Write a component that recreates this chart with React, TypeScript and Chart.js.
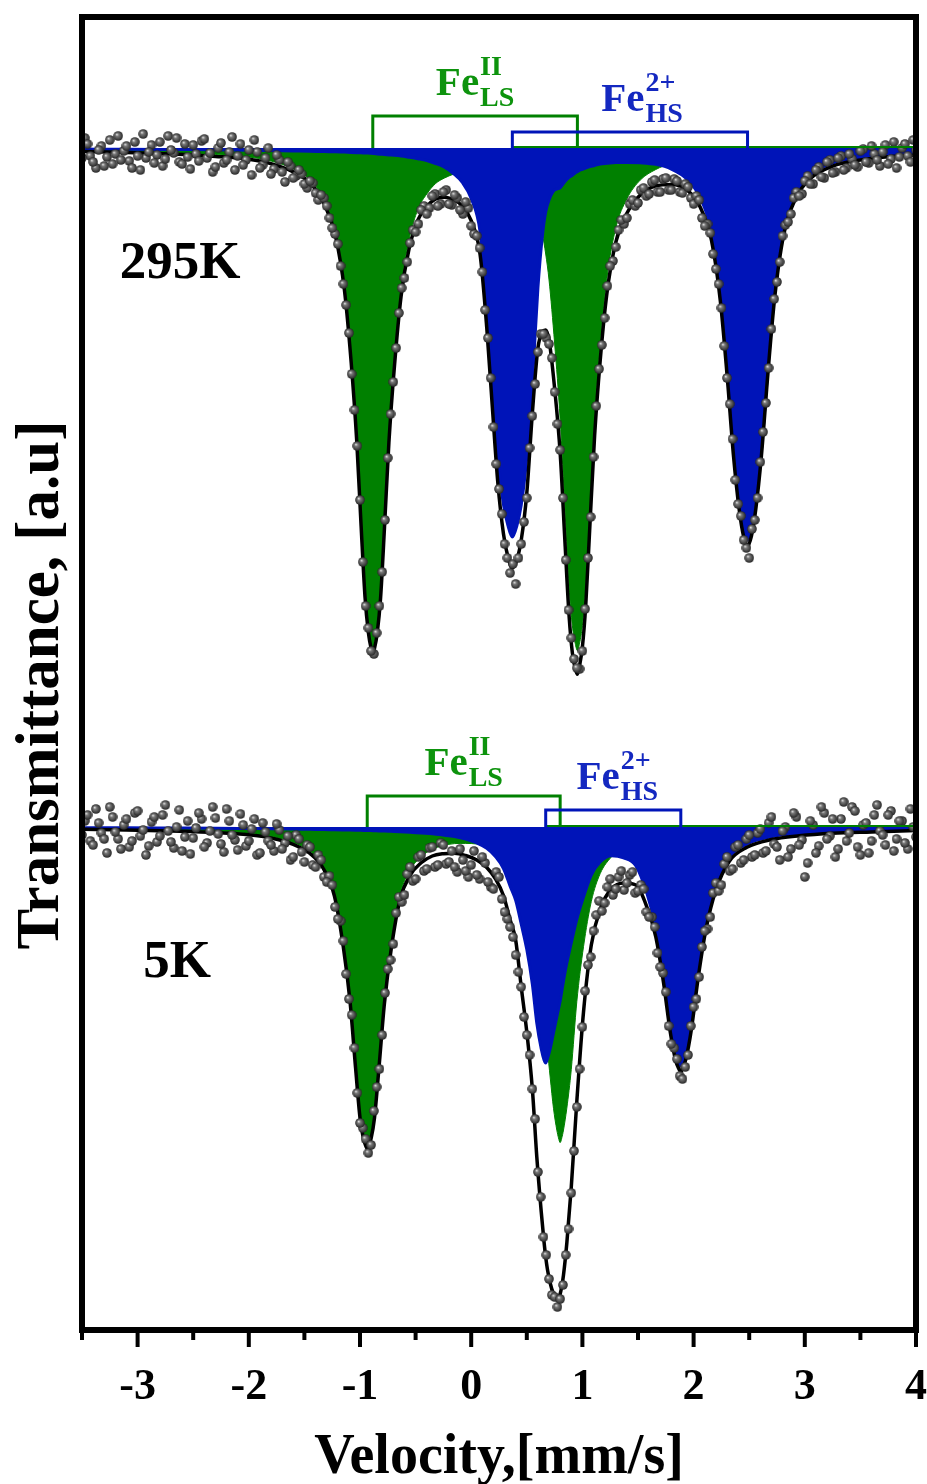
import React, { useEffect, useRef } from "react";
import { Chart, registerables } from "chart.js";

Chart.register(...registerables);

const FONT = '"Liberation Serif", "Times New Roman", serif';

// ---------- Fitted curves (absorption, a.u.) ----------
// 295 K
const X_FIT_TOP = [-3.5, -3.1, -2.7, -2.3, -2.0, -1.8, -1.6, -1.45, -1.32, -1.22, -1.14, -1.08, -1.03, -0.99, -0.955, -0.925, -0.9, -0.885, -0.87, -0.845, -0.815, -0.78, -0.74, -0.69, -0.63, -0.56, -0.48, -0.4, -0.32, -0.24, -0.16, -0.08, 0.0, 0.08, 0.14, 0.19, 0.24, 0.29, 0.33, 0.37, 0.41, 0.45, 0.5, 0.55, 0.6, 0.64, 0.67, 0.7, 0.75, 0.8, 0.845, 0.88, 0.91, 0.935, 0.955, 0.975, 1.0, 1.03, 1.065, 1.11, 1.16, 1.22, 1.3, 1.4, 1.52, 1.66, 1.8, 1.94, 2.06, 2.16, 2.24, 2.3, 2.36, 2.41, 2.45, 2.485, 2.52, 2.56, 2.61, 2.67, 2.73, 2.81, 2.92, 3.05, 3.25, 3.5, 3.75, 4.0];
const GREEN_TOP = [2.4, 3.4, 4.6, 6.6, 9.0, 13.0, 20.9, 31.6, 52.6, 84.5, 138.0, 209.2, 287.2, 373.3, 443.8, 479.1, 495.0, 500.0, 495.1, 479.2, 443.9, 373.5, 287.5, 210.6, 139.7, 92.2, 61.5, 46.0, 35.5, 30.0, 26.2, 23.4, 22.1, 22.7, 23.2, 24.9, 26.9, 29.2, 31.4, 33.6, 37.9, 42.7, 51.9, 61.7, 70.0, 86.0, 106.0, 132.0, 195.0, 271.2, 364.8, 438.0, 477.9, 495.2, 502.6, 495.1, 477.6, 437.5, 364.1, 270.0, 196.5, 130.5, 79.9, 50.8, 32.1, 21.5, 15.3, 10.7, 9.5, 8.4, 7.5, 7.1, 6.7, 6.3, 6.1, 5.8, 5.6, 5.5, 5.3, 5.0, 4.7, 4.4, 4.0, 3.6, 3.2, 2.5, 2.2, 1.9];
const BLUE_TOP = [1.1, 1.2, 1.5, 1.8, 2.2, 2.6, 3.0, 3.3, 3.6, 3.8, 4.1, 4.5, 4.7, 4.8, 5.0, 5.1, 5.3, 5.4, 5.6, 5.9, 6.2, 6.5, 6.9, 7.3, 8.0, 9.2, 10.7, 12.5, 15.5, 19.2, 25.5, 34.5, 50.5, 83.8, 156.7, 234.1, 308.5, 356.5, 377.4, 389.1, 378.0, 357.1, 309.3, 235.1, 140.0, 88.0, 64.0, 52.0, 42.0, 39.7, 33.2, 29.4, 27.2, 24.9, 23.7, 22.3, 21.3, 20.0, 18.6, 17.5, 16.1, 15.3, 14.4, 14.4, 14.8, 16.4, 21.1, 31.1, 49.8, 83.6, 145.0, 218.6, 302.6, 355.2, 382.5, 392.1, 382.4, 355.0, 302.3, 218.0, 144.1, 82.5, 45.9, 27.0, 15.0, 9.5, 6.5, 5.0];
const TOTAL_TOP = [3.5, 4.6, 6.1, 8.4, 11.2, 15.6, 23.9, 34.9, 56.2, 88.3, 142.1, 213.7, 291.9, 378.1, 448.8, 484.2, 500.3, 505.4, 500.7, 485.1, 450.1, 380.0, 294.4, 217.9, 147.7, 101.4, 72.2, 58.5, 51.0, 49.2, 51.7, 57.9, 72.6, 106.5, 179.9, 259.0, 335.4, 385.7, 408.8, 420.0, 412.0, 392.0, 345.0, 265.0, 200.0, 184.0, 182.0, 192.0, 240.0, 305.0, 398.0, 467.4, 505.1, 520.1, 526.3, 517.4, 498.9, 457.5, 382.7, 287.5, 212.6, 145.8, 94.3, 65.2, 46.9, 37.9, 36.4, 41.8, 59.3, 92.0, 152.5, 225.7, 309.3, 361.5, 388.6, 397.9, 388.0, 360.5, 307.6, 223.0, 148.8, 86.9, 49.9, 30.6, 18.2, 12.0, 8.7, 6.9];

// 5 K
const X_FIT_BOT = [-3.5, -3.1, -2.7, -2.3, -2.0, -1.8, -1.6, -1.45, -1.33, -1.23, -1.15, -1.09, -1.04, -1.0, -0.97, -0.95, -0.935, -0.92, -0.9, -0.87, -0.83, -0.78, -0.72, -0.64, -0.55, -0.45, -0.35, -0.25, -0.15, -0.05, 0.05, 0.14, 0.22, 0.29, 0.35, 0.4, 0.45, 0.5, 0.55, 0.59, 0.63, 0.655, 0.67, 0.685, 0.71, 0.74, 0.77, 0.785, 0.8, 0.815, 0.83, 0.86, 0.9, 0.95, 1.01, 1.08, 1.16, 1.26, 1.37, 1.48, 1.58, 1.66, 1.73, 1.79, 1.84, 1.87, 1.885, 1.9, 1.93, 1.98, 2.04, 2.11, 2.2, 2.32, 2.48, 2.7, 2.95, 3.25, 3.6, 4.0];
const GREEN_BOT = [1.6, 2.2, 3.1, 4.4, 6.3, 9.3, 15.4, 24.2, 39.0, 66.3, 117.0, 171.1, 237.5, 287.4, 307.7, 314.9, 318.1, 315.0, 307.8, 287.5, 237.7, 172.0, 118.1, 67.8, 43.1, 29.7, 22.2, 18.6, 16.6, 16.4, 17.0, 19.2, 22.4, 27.0, 33.6, 39.7, 50.5, 66.0, 90.8, 120.8, 156.4, 181.8, 202.2, 221.9, 250.0, 281.3, 303.1, 310.9, 315.6, 310.8, 303.0, 281.1, 242.4, 174.4, 119.7, 74.5, 46.6, 30.1, 19.8, 14.7, 11.2, 9.5, 8.0, 6.8, 6.4, 6.1, 6.0, 5.9, 5.8, 5.5, 5.0, 4.7, 4.3, 3.9, 3.3, 2.8, 2.3, 1.8, 1.5, 1.2];
const BLUE_BOT = [0.7, 0.8, 1.0, 1.2, 1.5, 1.7, 2.0, 2.3, 2.5, 2.8, 3.0, 3.1, 3.2, 3.3, 3.4, 3.4, 3.5, 3.5, 3.6, 3.7, 3.9, 4.0, 4.3, 4.7, 5.3, 6.1, 6.8, 8.1, 9.6, 12.1, 15.9, 21.3, 29.8, 41.5, 59.2, 73.4, 97.2, 122.6, 157.2, 196.2, 222.0, 233.0, 236.0, 232.0, 222.0, 206.0, 190.0, 182.0, 174.0, 164.0, 154.0, 136.0, 116.0, 92.0, 70.0, 48.0, 35.0, 28.7, 30.9, 38.7, 66.4, 100.7, 148.4, 198.0, 227.1, 236.3, 239.0, 236.1, 226.6, 196.9, 146.7, 98.3, 59.0, 30.5, 17.0, 9.7, 6.4, 4.4, 3.4, 2.4];
const TOTAL_BOT = [2.3, 3.0, 4.1, 5.6, 7.8, 11.0, 17.4, 26.5, 41.5, 69.1, 120.0, 174.2, 240.7, 290.7, 311.1, 318.3, 321.6, 318.5, 311.4, 291.2, 241.6, 176.0, 122.4, 72.5, 48.4, 35.8, 29.0, 26.7, 26.2, 28.5, 32.9, 40.5, 52.2, 68.5, 92.8, 113.1, 160.0, 205.0, 262.0, 330.0, 385.0, 415.0, 430.0, 442.0, 456.0, 467.0, 473.0, 472.0, 467.0, 459.0, 448.0, 416.0, 360.0, 274.0, 185.0, 118.0, 82.0, 62.0, 56.0, 58.0, 80.0, 110.0, 156.0, 205.0, 234.0, 242.4, 245.0, 242.0, 232.4, 202.4, 151.7, 103.0, 63.3, 34.4, 20.3, 12.5, 8.7, 6.2, 4.9, 3.6];

// ---------- Measured points (absorption, a.u.) ----------
const VELOCITY = [
  -3.5, -3.45, -3.4, -3.35, -3.3, -3.25, -3.2, -3.15, -3.1, -3.05,
  -3, -2.95, -2.9, -2.85, -2.8, -2.75, -2.7, -2.65, -2.6, -2.55,
  -2.5, -2.45, -2.4, -2.35, -2.3, -2.25, -2.2, -2.15, -2.1, -2.05,
  -2, -1.95, -1.9, -1.85, -1.8, -1.75, -1.7, -1.65, -1.6, -1.55,
  -1.5, -1.45, -1.4, -1.35, -1.3, -1.25, -1.2, -1.15, -1.1, -1.05,
  -1, -0.95, -0.9, -0.85, -0.8, -0.75, -0.7, -0.65, -0.6, -0.55,
  -0.5, -0.45, -0.4, -0.35, -0.3, -0.25, -0.2, -0.15, -0.1, -0.05,
  0, 0.05, 0.1, 0.15, 0.2, 0.25, 0.3, 0.35, 0.4, 0.45,
  0.5, 0.55, 0.6, 0.65, 0.7, 0.75, 0.8, 0.85, 0.9, 0.95,
  1, 1.05, 1.1, 1.15, 1.2, 1.25, 1.3, 1.35, 1.4, 1.45,
  1.5, 1.55, 1.6, 1.65, 1.7, 1.75, 1.8, 1.85, 1.9, 1.95,
  2, 2.05, 2.1, 2.15, 2.2, 2.25, 2.3, 2.35, 2.4, 2.45,
  2.5, 2.55, 2.6, 2.65, 2.7, 2.75, 2.8, 2.85, 2.9, 2.95,
  3, 3.05, 3.1, 3.15, 3.2, 3.25, 3.3, 3.35, 3.4, 3.45,
  3.5, 3.55, 3.6, 3.65, 3.7, 3.75, 3.8, 3.85, 3.9, 3.95,
  4,
];
const VELOCITY_MID = [
  -3.475, -3.425, -3.375, -3.325, -3.275, -3.225, -3.175, -3.125, -3.075, -3.025,
  -2.975, -2.925, -2.875, -2.825, -2.775, -2.725, -2.675, -2.625, -2.575, -2.525,
  -2.475, -2.425, -2.375, -2.325, -2.275, -2.225, -2.175, -2.125, -2.075, -2.025,
  -1.975, -1.925, -1.875, -1.825, -1.775, -1.725, -1.675, -1.625, -1.575, -1.525,
  -1.475, -1.425, -1.375, -1.325, -1.275, -1.225, -1.175, -1.125, -1.075, -1.025,
  -0.975, -0.925, -0.875, -0.825, -0.775, -0.725, -0.675, -0.625, -0.575, -0.525,
  -0.475, -0.425, -0.375, -0.325, -0.275, -0.225, -0.175, -0.125, -0.075, -0.025,
  0.025, 0.075, 0.125, 0.175, 0.225, 0.275, 0.325, 0.375, 0.425, 0.475,
  0.525, 0.575, 0.625, 0.675, 0.725, 0.775, 0.825, 0.875, 0.925, 0.975,
  1.025, 1.075, 1.125, 1.175, 1.225, 1.275, 1.325, 1.375, 1.425, 1.475,
  1.525, 1.575, 1.625, 1.675, 1.725, 1.775, 1.825, 1.875, 1.925, 1.975,
  2.025, 2.075, 2.125, 2.175, 2.225, 2.275, 2.325, 2.375, 2.425, 2.475,
  2.525, 2.575, 2.625, 2.675, 2.725, 2.775, 2.825, 2.875, 2.925, 2.975,
  3.025, 3.075, 3.125, 3.175, 3.225, 3.275, 3.325, 3.375, 3.425, 3.475,
  3.525, 3.575, 3.625, 3.675, 3.725, 3.775, 3.825, 3.875, 3.925, 3.975,
];
const POINTS_TOP = [
  10, -4, 14, 2, 18, -8, 6, 12, -2, 20,
  8, -14, 4, 15, -6, 11, 2, -10, 16, 9,
  -3, 13, -9, 5, 19, -5, 12, -11, 8, 17,
  2, -8, 20, 10, 26, 7, 24, 14, 30, 22,
  36, 33, 45, 47, 58, 80, 96, 136, 185, 262,
  352, 458, 503, 485, 424, 310, 234, 165, 130, 95,
  84, 62, 66, 48, 58, 44, 56, 47, 62, 54,
  78, 88, 124, 190, 279, 341, 396, 425, 436, 396,
  350, 268, 204, 186, 196, 244, 302, 412, 490, 520,
  503, 410, 309, 221, 170, 118, 99, 72, 70, 52,
  55, 40, 46, 32, 44, 30, 42, 33, 45, 39,
  56, 52, 78, 85, 121, 160, 230, 291, 356, 392,
  410, 372, 314, 255, 181, 134, 88, 74, 50, 48,
  33, 36, 22, 29, 14, 25, 10, 22, 6, 17,
  3, 14, -2, 12, 4, 16, -6, 9, -4, 14,
  2,
];
const POINTS_TOP_MID = [
  -10, 8, 20, -2, 9, 16, -12, 3, 13, -6,
  22, 10, -3, 7, 18, -12, 5, 14, -4, 21,
  6, -7, 10, 24, 0, 15, 4, 22, -4, 12,
  27, 4, 17, 0, 21, 12, 34, 18, 28, 26,
  40, 35, 52, 50, 70, 86, 118, 157, 226, 298,
  414, 480, 506, 458, 372, 266, 200, 140, 114, 82,
  76, 58, 60, 46, 56, 42, 57, 50, 66, 60,
  86, 100, 162, 230, 316, 366, 410, 416, 410, 374,
  300, 236, 186, 190, 210, 276, 350, 462, 511, 521,
  461, 369, 258, 197, 138, 113, 82, 76, 56, 58,
  42, 48, 34, 44, 31, 42, 31, 44, 36, 50,
  48, 70, 76, 106, 136, 198, 256, 332, 368, 400,
  381, 350, 284, 220, 151, 114, 77, 66, 44, 46,
  28, 36, 19, 30, 12, 24, 8, 20, 11, 19,
  1, 15, 6, 18, -3, 11, 20, 0, 8, -8,
];
const POINTS_BOT = [
  8, -12, 18, -4, 12, -20, 5, 22, -8, 14,
  -16, 3, 19, -10, 9, -22, 15, 0, 24, -6,
  11, -14, 20, 4, -9, 17, -18, 8, 23, -2,
  14, -8, 26, 5, 18, -3, 22, 9, 30, 12,
  35, 20, 40, 33, 55, 58, 92, 114, 172, 221,
  296, 312, 318, 260, 208, 142, 117, 70, 68, 40,
  52, 28, 42, 20, 38, 18, 35, 40, 22, 44,
  38, 48, 30, 55, 62, 50, 85, 100, 128, 160,
  208, 262, 345, 410, 452, 470, 472, 428, 366, 280,
  200, 138, 104, 74, 76, 52, 62, 44, 56, 45,
  64, 62, 90, 100, 140, 165, 217, 232, 252, 228,
  180, 150, 104, 90, 56, 58, 30, 42, 18, 33,
  8, 28, 2, 24, -10, 20, 4, 30, -14, 18,
  50, -6, 26, -20, 12, -8, 22, -25, 6, -16,
  28, -4, 14, -22, 8, -12, 24, -6, 16, -18,
  10,
];
const POINTS_BOT_MID = [
  -6, 14, -18, 6, 26, -10, 12, -2, 20, -14,
  9, 28, -5, 15, -12, 4, 21, -17, 10, 27,
  1, -8, 16, -20, 7, 25, -6, 13, -13, 19,
  2, 28, -4, 14, 24, 3, 16, 33, 8, 25,
  18, 38, 28, 50, 49, 80, 94, 147, 188, 266,
  301, 326, 284, 242, 166, 133, 86, 75, 47, 54,
  30, 44, 21, 40, 16, 37, 24, 45, 33, 50,
  24, 52, 36, 60, 45, 72, 92, 110, 145, 190,
  228, 292, 370, 428, 468, 480, 458, 402, 324, 242,
  164, 130, 88, 84, 60, 68, 50, 63, 48, 66,
  58, 85, 90, 126, 146, 199, 221, 249, 240, 199,
  172, 120, 102, 66, 64, 37, 44, 20, 36, 12,
  30, 6, 26, -4, 17, 33, 0, 22, -10, 13,
  36, -2, 19, -14, 9, 30, -8, 14, -20, 20,
  -2, 26, -12, 4, 18, -16, 12, -6, 22, 0,
];

// ---------- Line positions (brackets) ----------
const LS_TOP = [-0.885, 0.955];
const HS_TOP = [0.37, 2.485];
const LS_BOT = [-0.935, 0.8];
const HS_BOT = [0.67, 1.885];
const BRACKET_LS = [32, 31];
const BRACKET_HS = [16, 17];

// spectrum baselines (a.u.)
const BASE_TOP = 1000;
const BASE_BOT = 321;
const TEMPS = ["295K", "5K"];

const MAJOR_TICKS = [-3, -2, -1, 0, 1, 2, 3, 4];
const MINOR_TICKS = [-3.5, -2.5, -1.5, -0.5, 0.5, 1.5, 2.5, 3.5];

const GREEN = "#008000";
const BLUE = "#0014b8";
const GREEN_TXT = "#0d930d";
const BLUE_TXT = "#1428c0";

export default function App() {
  const ref = useRef<HTMLCanvasElement | null>(null);

  useEffect(() => {
    const canvas = ref.current;
    if (!canvas) return;

    const ball = document.createElement("canvas");
    ball.width = 10;
    ball.height = 10;
    const bc = ball.getContext("2d")!;
    const grad = bc.createRadialGradient(3.6, 3.4, 0.3, 5, 5, 5);
    grad.addColorStop(0, "#d8d8d8");
    grad.addColorStop(0.3, "#777777");
    grad.addColorStop(1, "#222222");
    bc.fillStyle = grad;
    bc.beginPath();
    bc.arc(5, 5, 4.8, 0, Math.PI * 2);
    bc.fill();

    const series = (xs: number[], vs: number[], base: number) =>
      xs.map((x, i) => ({ x, y: base - vs[i] }));

    const fillSet = (data: any, color: string, base: number, order: number, bw: number) => ({
      data,
      borderColor: color,
      backgroundColor: color,
      borderWidth: bw,
      fill: { value: base },
      pointRadius: 0,
      cubicInterpolationMode: "monotone",
      order,
    });
    const fitSet = (data: any) => ({
      data,
      borderColor: "#000",
      borderWidth: 3.5,
      fill: false,
      pointRadius: 0,
      cubicInterpolationMode: "monotone",
      order: 2,
    });
    const ptSet = (data: any) => ({
      data,
      showLine: false,
      pointStyle: ball,
      pointRadius: 4.8,
      order: 0,
    });

    const annot = {
      id: "annot",
      afterDatasetsDraw(chart: any) {
        const { ctx, chartArea: ca, scales } = chart;
        const xs = scales.x;
        const ys = scales.y;
        ctx.save();

        const drawBracket = (c: number[], base: number, h: number, color: string) => {
          const x1 = xs.getPixelForValue(c[0]);
          const x2 = xs.getPixelForValue(c[1]);
          const yb = ys.getPixelForValue(base);
          const yt = ys.getPixelForValue(base + h);
          ctx.strokeStyle = color;
          ctx.lineWidth = 3;
          ctx.lineJoin = "miter";
          ctx.beginPath();
          ctx.moveTo(x1, yb);
          ctx.lineTo(x1, yt);
          ctx.lineTo(x2, yt);
          ctx.lineTo(x2, yb);
          ctx.stroke();
          return { mid: (x1 + x2) / 2, top: yt };
        };

        const drawFe = (cx: number, by: number, sup: string, sub: string, color: string) => {
          ctx.fillStyle = color;
          ctx.textAlign = "left";
          ctx.textBaseline = "alphabetic";
          ctx.font = `bold 41px ${FONT}`;
          const wFe = ctx.measureText("Fe").width;
          ctx.font = `bold 28px ${FONT}`;
          const w2 = Math.max(ctx.measureText(sup).width, ctx.measureText(sub).width);
          const left = cx - (wFe + w2 + 1) / 2;
          ctx.font = `bold 41px ${FONT}`;
          ctx.fillText("Fe", left, by);
          ctx.font = `bold 28px ${FONT}`;
          ctx.fillText(sup, left + wFe + 1, by - 20);
          ctx.fillText(sub, left + wFe + 1, by + 11);
        };

        const specs = [
          { ls: LS_TOP, hs: HS_TOP, base: BASE_TOP, hl: BRACKET_LS[0], hh: BRACKET_HS[0], shift: 12 },
          { ls: LS_BOT, hs: HS_BOT, base: BASE_BOT, hl: BRACKET_LS[1], hh: BRACKET_HS[1], shift: 4 },
        ];
        specs.forEach((s) => {
          const yb = ys.getPixelForValue(s.base);
          ctx.strokeStyle = GREEN;
          ctx.lineWidth = 2;
          ctx.beginPath();
          ctx.moveTo(xs.getPixelForValue(s.hs[0]), yb - 1);
          ctx.lineTo(ca.right, yb - 1);
          ctx.stroke();
          const g = drawBracket(s.ls, s.base, s.hl, GREEN);
          const b = drawBracket(s.hs, s.base, s.hh, BLUE);
          drawFe(g.mid, g.top - 21, "II", "LS", GREEN_TXT);
          drawFe(b.mid + s.shift, b.top - 21, "2+", "HS", BLUE_TXT);
        });

        // temperature labels
        ctx.fillStyle = "#000";
        ctx.font = `bold 53px ${FONT}`;
        ctx.textAlign = "left";
        ctx.textBaseline = "alphabetic";
        ctx.fillText(TEMPS[0], xs.getPixelForValue(-3.16), ys.getPixelForValue(BASE_TOP - 130));
        ctx.fillText(TEMPS[1], xs.getPixelForValue(-2.95), ys.getPixelForValue(BASE_BOT - 150));

        // frame
        ctx.strokeStyle = "#000";
        ctx.lineWidth = 6;
        ctx.strokeRect(ca.left, ca.top, ca.right - ca.left, ca.bottom - ca.top);

        // ticks
        ctx.lineWidth = 4;
        ctx.lineCap = "butt";
        MAJOR_TICKS.forEach((v) => {
          const px = xs.getPixelForValue(v);
          ctx.beginPath();
          ctx.moveTo(px, ca.bottom);
          ctx.lineTo(px, ca.bottom + 17);
          ctx.stroke();
        });
        MINOR_TICKS.forEach((v) => {
          const px = xs.getPixelForValue(v);
          ctx.beginPath();
          ctx.moveTo(px, ca.bottom);
          ctx.lineTo(px, ca.bottom + 10);
          ctx.stroke();
        });

        // tick labels
        ctx.fillStyle = "#000";
        ctx.font = `bold 44px ${FONT}`;
        ctx.textAlign = "center";
        ctx.textBaseline = "alphabetic";
        MAJOR_TICKS.forEach((v) => {
          ctx.fillText(String(v), xs.getPixelForValue(v), ca.bottom + 69);
        });

        // axis titles
        ctx.font = `bold 56px ${FONT}`;
        ctx.fillText("Velocity,[mm/s]", (ca.left + ca.right) / 2, ca.bottom + 143);
        ctx.save();
        ctx.translate(58, 685);
        ctx.rotate(-Math.PI / 2);
        ctx.font = `bold 61px ${FONT}`;
        ctx.textAlign = "center";
        ctx.fillText("Transmittance, [a.u]", 0, 0);
        ctx.restore();

        ctx.restore();
      },
    };

    const chart = new Chart(canvas, {
      type: "line",
      data: {
        datasets: [
          fillSet(series(X_FIT_TOP, GREEN_TOP, BASE_TOP), GREEN, BASE_TOP, 6, 1),
          fillSet(series(X_FIT_BOT, GREEN_BOT, BASE_BOT), GREEN, BASE_BOT, 6, 1),
          fillSet(series(X_FIT_TOP, BLUE_TOP, BASE_TOP), BLUE, BASE_TOP, 5, 3),
          fillSet(series(X_FIT_BOT, BLUE_BOT, BASE_BOT), BLUE, BASE_BOT, 5, 3),
          fitSet(series(X_FIT_TOP, TOTAL_TOP, BASE_TOP)),
          fitSet(series(X_FIT_BOT, TOTAL_BOT, BASE_BOT)),
          ptSet(series(VELOCITY, POINTS_TOP, BASE_TOP)),
          ptSet(series(VELOCITY_MID, POINTS_TOP_MID, BASE_TOP)),
          ptSet(series(VELOCITY, POINTS_BOT, BASE_BOT)),
          ptSet(series(VELOCITY_MID, POINTS_BOT_MID, BASE_BOT)),
        ] as any,
      },
      options: {
        animation: false,
        responsive: false,
        maintainAspectRatio: false,
        devicePixelRatio: 1,
        layout: { padding: { left: 82, right: 11, top: 17, bottom: 154 } },
        scales: {
          x: { type: "linear", min: -3.5, max: 4, display: false },
          y: { type: "linear", min: -182, max: 1131, display: false },
        },
        plugins: {
          legend: { display: false },
          tooltip: { enabled: false },
        },
        events: [],
      },
      plugins: [annot],
    });

    return () => chart.destroy();
  }, []);

  return (
    <div style={{ position: "absolute", left: 0, top: 0, width: 927, height: 1484, background: "#fff" }}>
      <canvas ref={ref} width={927} height={1484} style={{ display: "block", width: 927, height: 1484 }} />
    </div>
  );
}
